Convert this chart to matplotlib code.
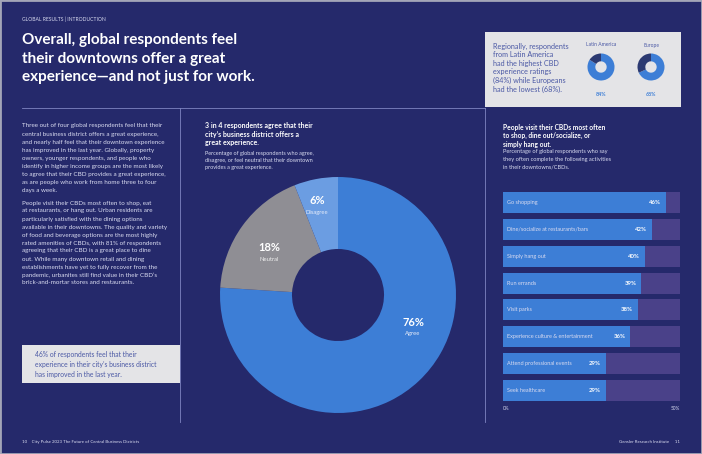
import matplotlib
import matplotlib.pyplot as plt
from matplotlib.lines import Line2D
from matplotlib.patches import Rectangle

matplotlib.use('Agg')

W, H = 702, 454

# --- data ---
pie_labels = ['Agree', 'Neutral', 'Disagree']
pie_values = [76, 18, 6]

region_names = ['Latin America', 'Europe']
region_values = [84, 68]

activities = ['Go shopping', 'Dine/socialize at restaurants/bars', 'Simply hang out',
              'Run errands', 'Visit parks', 'Experience culture & entertainment',
              'Attend professional events', 'Seek healthcare']
activity_values = [46, 42, 40, 39, 38, 36, 29, 29]
axis_max = 50

# --- colours ---
BG = '#25296b'
BAR = '#3d7ed6'
TRACK = '#4a4189'
GRAY = '#8f8e94'
LIGHT_BLUE = '#6b9de2'
DARK = '#2c3a72'
BOX = '#e4e4e7'
BOX_TEXT = '#4b59a5'
TXT = '#d9dbf0'
RULE = '#7f85c2'

plt.rcParams['font.family'] = ['Lato', 'DejaVu Sans']

fig = plt.figure(figsize=(W / 100, H / 100), dpi=100, facecolor=BG)


def fx(x):
    return x / W


def fy(y):
    return 1 - y / H


def axes_px(x0, y0, x1, y1):
    ax = fig.add_axes([fx(x0), fy(y1), (x1 - x0) / W, (y1 - y0) / H])
    ax.set_zorder(2)
    return ax


def text_block(x, y, lines, step, **kw):
    # one line per call so the line spacing is exact in pixels
    for i, line in enumerate(lines):
        fig.text(fx(x), fy(y + i * step), line, va='center', **kw)


def rect_px(x0, y0, x1, y1, color):
    fig.patches.append(Rectangle((fx(x0), fy(y1)), (x1 - x0) / W, (y1 - y0) / H,
                                 transform=fig.transFigure, facecolor=color,
                                 edgecolor='none', zorder=-1))


def line_px(xs, ys, color=RULE, lw=0.6):
    fig.lines.append(Line2D([fx(v) for v in xs], [fy(v) for v in ys],
                            transform=fig.transFigure, color=color, lw=lw))


# page border and rules
fig.patches.append(Rectangle((0, 0), 1, 1, transform=fig.transFigure, fill=False,
                             edgecolor='#a3a5b8', lw=2))
line_px([22, 485], [108, 108])
line_px([180, 180], [108, 422])
line_px([485, 485], [108, 422])

# header + title
fig.text(fx(22), fy(19), 'GLOBAL RESULTS | INTRODUCTION', fontsize=3.6,
         color=TXT, va='center')
text_block(22, 40, ['Overall, global respondents feel',
                    'their downtowns offer a great',
                    'experience\u2014and not just for work.'], 18.5,
           fontsize=11, fontweight='bold', color='white')

# regional callout box
rect_px(485, 32, 681, 107, BOX)
text_block(493, 46, ['Regionally, respondents', 'from Latin America',
                     'had the highest CBD', 'experience ratings',
                     '(84%) while Europeans', 'had the lowest (68%).'], 8.6,
           fontsize=5.2, color=BOX_TEXT)
for i, (name, val) in enumerate(zip(region_names, region_values)):
    cx = 601 + i * 50
    ax_r = axes_px(cx - 13.5, 67 - 13.5, cx + 13.5, 67 + 13.5)
    ax_r.pie([val, 100 - val], colors=[BAR, DARK], startangle=90, counterclock=False,
             wedgeprops=dict(width=0.58, edgecolor='none'))
    ax_r.set_xlim(-1, 1)
    ax_r.set_ylim(-1, 1)
    fig.text(fx(cx), fy(45), name, fontsize=3.6, color=BOX_TEXT, ha='center', va='center')
    fig.text(fx(cx), fy(94), f'{val}%', fontsize=3.8, color=BAR, ha='center',
             va='center', fontweight='bold')

# left column copy
para1 = ['Three out of four global respondents feel that their',
         'central business district offers a great experience,',
         'and nearly half feel that their downtown experience',
         'has improved in the last year. Globally, property',
         'owners, younger respondents, and people who',
         'identify in higher income groups are the most likely',
         'to agree that their CBD provides a great experience,',
         'as are people who work from home three to four',
         'days a week.']
para2 = ['People visit their CBDs most often to shop, eat',
         'at restaurants, or hang out. Urban residents are',
         'particularly satisfied with the dining options',
         'available in their downtowns. The quality and variety',
         'of food and beverage options are the most highly',
         'rated amenities of CBDs, with 81% of respondents',
         'agreeing that their CBD is a great place to dine',
         'out. While many downtown retail and dining',
         'establishments have yet to fully recover from the',
         'pandemic, urbanites still find value in their CBD\u2019s',
         'brick-and-mortar stores and restaurants.']
text_block(22, 126, para1, 8.1, fontsize=4.5, color=TXT)
text_block(22, 203, para2, 8.0, fontsize=4.5, color=TXT)

rect_px(22, 345, 180, 383, BOX)
text_block(35, 355, ['46% of respondents feel that their',
                     'experience in their city\u2019s business district',
                     'has improved in the last year.'], 9.5,
           fontsize=4.9, color=BOX_TEXT)

# footers
fig.text(fx(22), fy(442), '10    City Pulse 2023 The Future of Central Business Districts',
         fontsize=3.2, color=TXT, va='center')
fig.text(fx(680), fy(442), 'Gensler Research Institute     11', fontsize=3.2,
         color=TXT, va='center', ha='right')

# middle column: donut
text_block(205, 126, ['3 in 4 respondents agree that their',
                      'city\u2019s business district offers a',
                      'great experience.'], 8.5,
           fontsize=5.0, fontweight='bold', color='white')
text_block(205, 153, ['Percentage of global respondents who agree,',
                      'disagree, or feel neutral that their downtown',
                      'provides a great experience.'], 7.4,
           fontsize=4.0, color=TXT)

ax_d = axes_px(220, 177, 456, 413)
ax_d.pie(pie_values, colors=[BAR, GRAY, LIGHT_BLUE], startangle=90, counterclock=False,
         wedgeprops=dict(width=0.61, edgecolor='none'))
ax_d.set_xlim(-1, 1)
ax_d.set_ylim(-1, 1)
label_pos = [(0.636, -0.23), (-0.585, 0.40), (-0.18, 0.80)]
label_col = ['#e8ecf8', '#eeeeee', '#e6ecfa']
for (lx, ly), lab, val, c in zip(label_pos, pie_labels, pie_values, label_col):
    ax_d.text(lx, ly, f'{val}%', ha='center', va='center', fontsize=8,
              fontweight='bold', color='white')
    ax_d.text(lx, ly - 0.10, lab, ha='center', va='center', fontsize=4.2, color=c)

# right column: bars
text_block(503, 127, ['People visit their CBDs most often',
                      'to shop, dine out/socialize, or',
                      'simply hang out.'], 8.5,
           fontsize=4.8, fontweight='bold', color='white')
text_block(503, 152, ['Percentage of global respondents who say',
                      'they often complete the following activities',
                      'in their downtowns/CBDs.'], 7.5,
           fontsize=4.1, color=TXT)

ax_b = axes_px(503, 189, 680, 404)
ypos = list(range(len(activities)))
ax_b.barh(ypos, [axis_max] * len(activities), height=0.78, color=TRACK)
ax_b.barh(ypos, activity_values, height=0.78, color=BAR)
for y, name, val in zip(ypos, activities, activity_values):
    ax_b.text(1.0, y, name, va='center', fontsize=4.0, color=TXT)
    ax_b.text(val - 1.3, y, f'{val}%', va='center', ha='right', fontsize=4.3,
              fontweight='bold', color='white')
ax_b.set_xlim(0, axis_max)
ax_b.set_ylim(len(activities) - 0.5, -0.5)
ax_b.text(0, len(activities) - 0.35, '0%', ha='left', va='center', fontsize=3.4,
          color=TXT, clip_on=False)
ax_b.text(axis_max, len(activities) - 0.35, f'{axis_max}%', ha='right', va='center',
          fontsize=3.4, color=TXT, clip_on=False)
ax_b.axis('off')

fig.savefig('out.png', dpi=100, facecolor=BG)
